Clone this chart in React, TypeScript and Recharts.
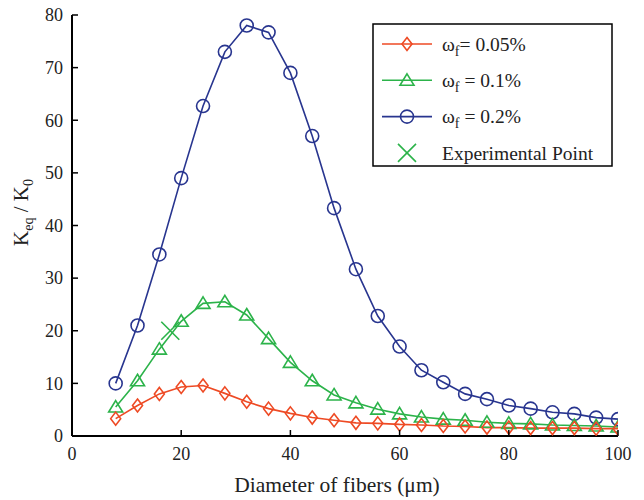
import React from 'react'
import { ComposedChart, Line, Scatter, XAxis, YAxis, Legend } from 'recharts'

const diameters = [8, 12, 16, 20, 24, 28, 32, 36, 40, 44, 48, 52, 56, 60, 64, 68, 72, 76, 80, 84, 88, 92, 96, 100]
const w005 = [3.3, 5.8, 8.0, 9.3, 9.6, 8.1, 6.5, 5.2, 4.3, 3.5, 3.0, 2.5, 2.4, 2.2, 2.1, 1.9, 1.8, 1.6, 1.6, 1.5, 1.5, 1.5, 1.4, 1.4]
const w01 = [5.5, 10.5, 16.5, 21.8, 25.2, 25.5, 23.0, 18.5, 14.0, 10.5, 7.8, 6.3, 5.1, 4.2, 3.6, 3.2, 3.0, 2.6, 2.4, 2.3, 2.1, 2.0, 1.9, 1.7]
const w02 = [10.0, 21.0, 34.5, 49.0, 62.7, 73.0, 78.0, 76.7, 69.0, 57.0, 43.3, 31.7, 22.8, 17.0, 12.5, 10.2, 8.0, 7.0, 5.8, 5.2, 4.5, 4.2, 3.5, 3.2]
const experimental = [{ d: 18, exp: 20 }]

const xTicks = [0, 20, 40, 60, 80, 100]
const yTicks = [0, 10, 20, 30, 40, 50, 60, 70, 80]

const RED = '#ee4a24'
const GREEN = '#2cb34a'
const BLUE = '#28358f'
const FONT = 'Liberation Serif, Times New Roman, serif'
const txt = { fontFamily: FONT }

const data = diameters.map((d, i) => ({ d, red: w005[i], green: w01[i], blue: w02[i] }))

const TICK_LEN = 6
const X_MARGIN = 11
const Y_MARGIN = 9

const Diamond = ({ cx, cy, color }: any) => (
  <path d={`M${cx},${cy - 6.5} L${cx + 5},${cy} L${cx},${cy + 6.5} L${cx - 5},${cy} Z`} fill="none" stroke={color} strokeWidth={1.6} />
)
const Triangle = ({ cx, cy, color }: any) => (
  <path d={`M${cx},${cy - 6.5} L${cx + 7},${cy + 5} L${cx - 7},${cy + 5} Z`} fill="none" stroke={color} strokeWidth={1.6} />
)
const Ring = ({ cx, cy, color }: any) => (
  <circle cx={cx} cy={cy} r={6.5} fill="none" stroke={color} strokeWidth={1.6} />
)
const Cross = ({ cx, cy, color }: any) => (
  <path d={`M${cx - 9},${cy - 9} L${cx + 9},${cy + 9} M${cx - 9},${cy + 9} L${cx + 9},${cy - 9}`} stroke={color} strokeWidth={1.6} />
)

const BottomTick = ({ x, y, payload }: any) => (
  <g>
    <line x1={x} y1={y - X_MARGIN} x2={x} y2={y - X_MARGIN - TICK_LEN} stroke="#000" strokeWidth={1.5} />
    <text x={x} y={y} dy="0.71em" textAnchor="middle" fontSize={18} style={txt} fill="#222">{payload.value}</text>
  </g>
)
const TopTick = ({ x, y }: any) => (
  <line x1={x} y1={y} x2={x} y2={y + TICK_LEN} stroke="#000" strokeWidth={1.5} />
)
const LeftTick = ({ x, y, payload }: any) => (
  <g>
    <line x1={x + Y_MARGIN} y1={y} x2={x + Y_MARGIN + TICK_LEN} y2={y} stroke="#000" strokeWidth={1.5} />
    <text x={x} y={y} dy="0.35em" textAnchor="end" fontSize={18} style={txt} fill="#222">{payload.value}</text>
  </g>
)
const RightTick = ({ x, y }: any) => (
  <line x1={x} y1={y} x2={x - TICK_LEN} y2={y} stroke="#000" strokeWidth={1.5} />
)

const YLabel = ({ viewBox }: any) => {
  const cx = 28
  const cy = viewBox.y + viewBox.height / 2 - 13
  return (
    <text x={cx} y={cy} transform={`rotate(-90, ${cx}, ${cy})`} textAnchor="middle" fontSize={21} style={txt} fill="#222">
      K<tspan fontSize={14} dy={5}>eq</tspan><tspan dy={-5}> / K</tspan><tspan fontSize={14} dy={5}>0</tspan>
    </text>
  )
}
const XLabel = ({ viewBox }: any) => (
  <text x={viewBox.x + viewBox.width / 2 - 8} y={492} textAnchor="middle" fontSize={21.5} style={txt} fill="#222">
    Diameter of fibers (μm)
  </text>
)

const legendRows = [
  { label: '= 0.05%', color: RED, Marker: Diamond, omega: true },
  { label: ' = 0.1%', color: GREEN, Marker: Triangle, omega: true },
  { label: ' = 0.2%', color: BLUE, Marker: Ring, omega: true },
  { label: 'Experimental Point', color: GREEN, Marker: Cross, omega: false },
]

const LegendBox = () => (
  <svg width={241} height={144} style={{ display: 'block' }}>
    <rect x={1} y={1} width={239} height={142} fill="#fff" stroke="#000" strokeWidth={1.5} />
    {legendRows.map((r, i) => {
      const cy = 21 + i * 36.3
      return (
        <g key={i}>
          {r.omega && <line x1={10} y1={cy} x2={60} y2={cy} stroke={r.color} strokeWidth={1.6} />}
          <r.Marker cx={35} cy={cy} color={r.color} />
          <text x={70} y={cy} dy="0.35em" fontSize={19.5} style={txt} fill="#222">
            {r.omega ? (
              <>ω<tspan fontSize={14} dy={5}>f</tspan><tspan dy={-5}>{r.label}</tspan></>
            ) : r.label}
          </text>
        </g>
      )
    })}
  </svg>
)

export default function App() {
  return (
    <div style={{ position: 'absolute', left: 0, top: 0, width: 644, height: 500, background: '#fff', fontFamily: FONT }}>
      <ComposedChart width={644} height={500} data={data} margin={{ top: 15, right: 26, left: 0, bottom: 0 }}>
        <XAxis
          xAxisId="b"
          dataKey="d"
          type="number"
          domain={[0, 100]}
          ticks={xTicks}
          height={64}
          tickSize={0}
          tickMargin={X_MARGIN}
          tickLine={false}
          tick={<BottomTick />}
          axisLine={{ stroke: '#000', strokeWidth: 2 }}
          label={<XLabel />}
          allowDataOverflow
        />
        <XAxis
          xAxisId="t"
          orientation="top"
          dataKey="d"
          type="number"
          domain={[0, 100]}
          ticks={xTicks}
          height={0}
          tickSize={0}
          tickMargin={0}
          tickLine={false}
          tick={<TopTick />}
          axisLine={{ stroke: '#000', strokeWidth: 2 }}
        />
        <YAxis
          yAxisId="l"
          type="number"
          domain={[0, 80]}
          ticks={yTicks}
          width={72}
          tickSize={0}
          tickMargin={Y_MARGIN}
          tickLine={false}
          tick={<LeftTick />}
          axisLine={{ stroke: '#000', strokeWidth: 2 }}
          label={<YLabel />}
          allowDataOverflow
        />
        <YAxis
          yAxisId="r"
          orientation="right"
          type="number"
          domain={[0, 80]}
          ticks={yTicks}
          width={0}
          tickSize={0}
          tickMargin={0}
          tickLine={false}
          tick={<RightTick />}
          axisLine={{ stroke: '#000', strokeWidth: 2 }}
        />
        <Legend
          layout="horizontal"
          align="center"
          verticalAlign="middle"
          content={() => <LegendBox />}
          wrapperStyle={{ position: 'absolute', left: 372, top: 23, width: 241, height: 144 }}
        />
        <Line xAxisId="b" yAxisId="l" dataKey="blue" type="linear" stroke={BLUE} strokeWidth={1.6}
          dot={(p: any) => <Ring key={p.index} cx={p.cx} cy={p.cy} color={BLUE} />} activeDot={false} isAnimationActive={false} />
        <Line xAxisId="b" yAxisId="l" dataKey="green" type="linear" stroke={GREEN} strokeWidth={1.6}
          dot={(p: any) => <Triangle key={p.index} cx={p.cx} cy={p.cy} color={GREEN} />} activeDot={false} isAnimationActive={false} />
        <Line xAxisId="b" yAxisId="l" dataKey="red" type="linear" stroke={RED} strokeWidth={1.6}
          dot={(p: any) => <Diamond key={p.index} cx={p.cx} cy={p.cy} color={RED} />} activeDot={false} isAnimationActive={false} />
        <Scatter xAxisId="b" yAxisId="l" data={experimental} dataKey="exp" fill={GREEN}
          shape={(p: any) => <Cross cx={p.cx} cy={p.cy} color={GREEN} />} isAnimationActive={false} />
      </ComposedChart>
    </div>
  )
}
